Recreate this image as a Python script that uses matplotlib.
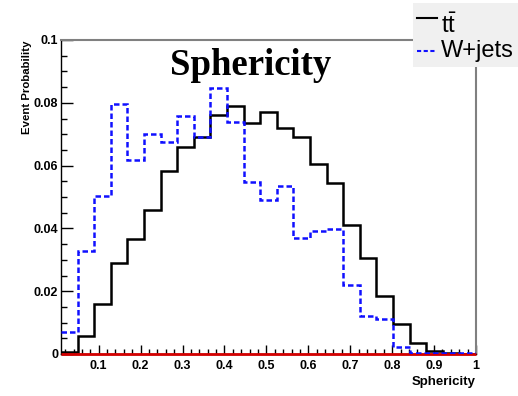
import numpy as np
import matplotlib.pyplot as plt
from matplotlib.patches import Rectangle
from matplotlib.lines import Line2D
from matplotlib.ticker import MultipleLocator, FixedLocator

plt.rcParams['font.family'] = ['Liberation Sans', 'DejaVu Sans']
plt.rcParams['mathtext.fontset'] = 'custom'
plt.rcParams['mathtext.rm'] = 'Liberation Sans'

# 25 bins between 0.01 and 1.0
bin_lo, bin_hi, n_bins = 0.01, 1.0, 25

ttbar = [0.0005, 0.0057, 0.0159, 0.0290, 0.0366, 0.0459, 0.0582, 0.0660,
         0.0690, 0.0760, 0.0790, 0.0737, 0.0771, 0.0721, 0.0690, 0.0605,
         0.0544, 0.0410, 0.0307, 0.0186, 0.0096, 0.0036, 0.0011, 0.0003,
         0.0001]
wjets = [0.0070, 0.0329, 0.0502, 0.0796, 0.0619, 0.0700, 0.0676, 0.0757,
         0.0690, 0.0847, 0.0740, 0.0549, 0.0491, 0.0534, 0.0369, 0.0393,
         0.0397, 0.0221, 0.0122, 0.0110, 0.0022, 0.0002, 0.0002, 0.0002,
         0.0002]
other = [0.0] * 25

xticks = [0.1, 0.2, 0.3, 0.4, 0.5, 0.6, 0.7, 0.8, 0.9, 1.0]
xticklabels = ['0.1', '0.2', '0.3', '0.4', '0.5', '0.6', '0.7', '0.8', '0.9', '1']
yticks = [0, 0.02, 0.04, 0.06, 0.08, 0.1]
yticklabels = ['0', '0.02', '0.04', '0.06', '0.08', '0.1']

W, H = 518, 396
fig = plt.figure(figsize=(W / 100, H / 100), dpi=100)
ax = fig.add_axes([61 / W, 1 - 354 / H, (476 - 61) / W, (354 - 40) / H])

edges = np.linspace(bin_lo, bin_hi, n_bins + 1)
ax.stairs(ttbar, edges, baseline=None, color='black', lw=1.8, zorder=3)
ax.stairs(other, edges, baseline=None, color='#d40000', lw=2.0, zorder=3.5,
          clip_on=False)
ax.stairs(wjets, edges, baseline=None, color='#1010ff', lw=1.8,
          linestyle=(0, (2.2, 1.2)), zorder=4)

ax.set_xlim(bin_lo, bin_hi)
ax.set_ylim(0, 0.1)

ax.xaxis.set_major_locator(FixedLocator(xticks))
ax.set_xticklabels(xticklabels)
ax.xaxis.set_minor_locator(MultipleLocator(0.02))
ax.yaxis.set_major_locator(FixedLocator(yticks))
ax.set_yticklabels(yticklabels)
ax.yaxis.set_minor_locator(MultipleLocator(0.005))

ax.tick_params(axis='x', which='major', direction='in', length=6.5, width=1,
               pad=4, labelsize=9)
ax.tick_params(axis='x', which='minor', direction='in', length=3.3, width=1)
ax.tick_params(axis='y', which='major', direction='in', length=8.6, width=1,
               pad=2, labelsize=9)
ax.tick_params(axis='y', which='minor', direction='in', length=4.3, width=1)
for lab in ax.get_xticklabels() + ax.get_yticklabels():
    lab.set_fontweight('bold')

for side in ('top', 'right'):
    ax.spines[side].set_color('#808080')
    ax.spines[side].set_linewidth(1.5)
for side in ('left', 'bottom'):
    ax.spines[side].set_linewidth(1)

fig.text(476 / W, 1 - 385 / H, 'Sphericity', ha='right', va='baseline',
         fontsize=9.5, fontweight='bold')
fig.text(27 / W, 1 - 40 / H, 'Event Probability', rotation=90, ha='center',
         va='top', fontsize=8.2, fontweight='bold')

fig.text(251 / W, 1 - 75 / H, 'Sphericity', ha='center', va='baseline',
         fontsize=26.5, fontweight='bold', family='Liberation Serif')

# legend box in the top right corner
fig.patches.append(Rectangle((413 / W, 1 - 67 / H), (W - 413) / W, 64 / H,
                             transform=fig.transFigure, facecolor='#f0f0f0',
                             edgecolor='none', zorder=5))
fig.lines.append(Line2D([417 / W, 437 / W], [1 - 18 / H, 1 - 18 / H],
                        transform=fig.transFigure, color='black', lw=1.5,
                        zorder=6))
fig.lines.append(Line2D([417 / W, 437 / W], [1 - 51 / H, 1 - 51 / H],
                        transform=fig.transFigure, color='#1010ff', lw=1.5,
                        linestyle=(0, (2, 1.2)), zorder=6))
fig.text(441 / W, 1 - 33 / H, r'$\mathrm{t\bar{t}}$', ha='left',
         va='baseline', fontsize=17, zorder=6)
fig.text(441 / W, 1 - 57 / H, 'W+jets', ha='left', va='baseline',
         fontsize=17, zorder=6)

fig.savefig('out.png', dpi=100)
